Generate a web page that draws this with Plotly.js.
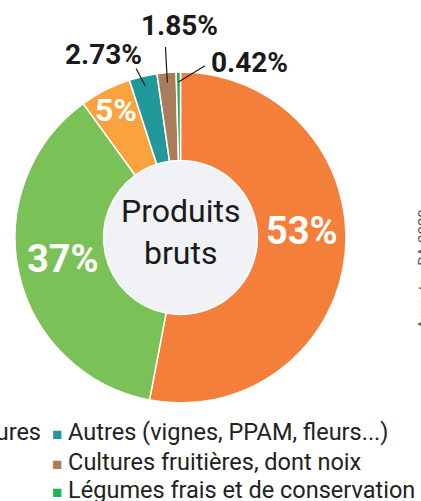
<!DOCTYPE html>
<html>
<head>
<meta charset="utf-8">
<script src="https://cdn.plot.ly/plotly-3.0.1.min.js"></script>
<style>html,body{margin:0;padding:0;background:#fff;}#chart{width:421px;height:501px;}</style>
</head>
<body>
<div id="chart"></div>
<script>
// ---- data ----
const categories = ["Grandes cultures", "Élevage", "Polyculture", "Autres (vignes, PPAM, fleurs...)", "Cultures fruitières, dont noix", "Légumes frais et de conservation"];
const values = [53, 37, 5, 2.73, 1.85, 0.42];
const valueLabels = ["53%", "37%", "5%", "2.73%", "1.85%", "0.42%"];
const colors = ["#f47f3b", "#7ac158", "#f9a23e", "#21989a", "#aa7c5a", "#23b05c"];
const centerTitle = "Produits<br>bruts";
const sourceText = "Agreste - RA 2020";

// ---- layout geometry ----
const W = 421, H = 501;
const cx = 180.5, cy = 237.5, R = 165.5, holeFrac = 0.465;
const FONT = "Roboto, 'Liberation Sans', Arial, sans-serif";

const dom = (r) => ({x: [(cx - r) / W, (cx + r) / W], y: [1 - (cy + r) / H, 1 - (cy - r) / H]});

const mainPie = {
  type: 'pie', values: values, labels: categories, sort: false, direction: 'clockwise', rotation: 0,
  hole: holeFrac, domain: dom(R),
  marker: {colors: colors, line: {color: '#ffffff', width: 1.5}},
  textinfo: 'none',
  hoverinfo: 'skip', showlegend: false
};
const holePie = {
  type: 'pie', values: [1], labels: ['hole'], sort: false, domain: dom(R * holeFrac),
  marker: {colors: ['#f0f2f5'], line: {width: 0}}, textinfo: 'none', hoverinfo: 'skip', showlegend: false
};

const annotations = [];
// center title
annotations.push({xref: 'paper', yref: 'paper', x: cx / W, y: 1 - (cy - 5) / H, text: centerTitle, showarrow: false,
  font: {family: FONT, size: 32, color: '#1a1a1a'}, xanchor: 'center', yanchor: 'middle'});

// label placement style per slice: inside labels (rf = radius fraction, shift) / outside labels (line + text offsets)
const inside = {0: {rf: 0.74, dx: 0, dy: -18, size: 38}, 1: {rf: 0.73, dx: 0, dy: -5, size: 38}, 2: {rf: 0.865, dx: 0, dy: 0, size: 32}};
const outside = {3: {lx: -10, ly: -19, tx: -42, ty: -31}, 4: {lx: -2, ly: -37, tx: 12, ty: -57}, 5: {lx: 28, ly: -17, tx: 71, ty: -19}};
let cum = 0;
values.forEach((v, i) => {
  const mid = (cum + v / 2) / 100 * 2 * Math.PI;
  cum += v;
  if (inside[i]) {
    const o = inside[i];
    const px = cx + o.rf * R * Math.sin(mid), py = cy - o.rf * R * Math.cos(mid);
    annotations.push({xref: 'paper', yref: 'paper', x: px / W, y: 1 - py / H, text: '<b>' + valueLabels[i] + '</b>', showarrow: false,
      xshift: o.dx, yshift: -o.dy, font: {family: FONT, size: o.size, color: '#ffffff'}, xanchor: 'center', yanchor: 'middle'});
  }
  if (outside[i]) {
    const o = outside[i];
    const px = cx + 0.94 * R * Math.sin(mid), py = cy - 0.94 * R * Math.cos(mid);
    annotations.push({xref: 'paper', yref: 'paper', x: px / W, y: 1 - py / H, text: '', showarrow: true,
      arrowhead: 0, arrowwidth: 1.2, arrowcolor: '#1a1a1a', ax: o.lx, ay: o.ly, standoff: 0, startstandoff: 0});
    annotations.push({xref: 'paper', yref: 'paper', x: px / W, y: 1 - py / H, text: '<b>' + valueLabels[i] + '</b>', showarrow: false,
      xshift: o.tx, yshift: -o.ty, font: {family: FONT, size: 28, color: '#1a1a1a'}, xanchor: 'center', yanchor: 'middle'});
  }
});

// legend (two columns, three rows)
const rowY = [432, 462, 490];
const colX = [-154, 50];
categories.forEach((c, i) => {
  const col = Math.floor(i / 3), row = i % 3;
  annotations.push({xref: 'paper', yref: 'paper', x: colX[col] / W, y: 1 - rowY[row] / H, xanchor: 'left', yanchor: 'middle',
    showarrow: false, align: 'left',
    text: '<span style="color:' + colors[i] + ';font-size:17px">■</span> ' + c,
    font: {family: FONT, size: 23.5, color: '#222222'}});
});

// source text, rotated, on the right edge
annotations.push({xref: 'paper', yref: 'paper', x: 424 / W, y: 1 - 269 / H, text: sourceText, textangle: -90,
  showarrow: false, xanchor: 'center', yanchor: 'middle', font: {family: FONT, size: 15, color: '#555555'}});

const layout = {
  width: W, height: H, margin: {l: 0, r: 0, t: 0, b: 0, autoexpand: false},
  paper_bgcolor: '#ffffff', plot_bgcolor: '#ffffff', showlegend: false,
  font: {family: FONT}, annotations: annotations
};
Plotly.newPlot('chart', [holePie, mainPie], layout, {displayModeBar: false, staticPlot: true});
</script>
</body>
</html>
